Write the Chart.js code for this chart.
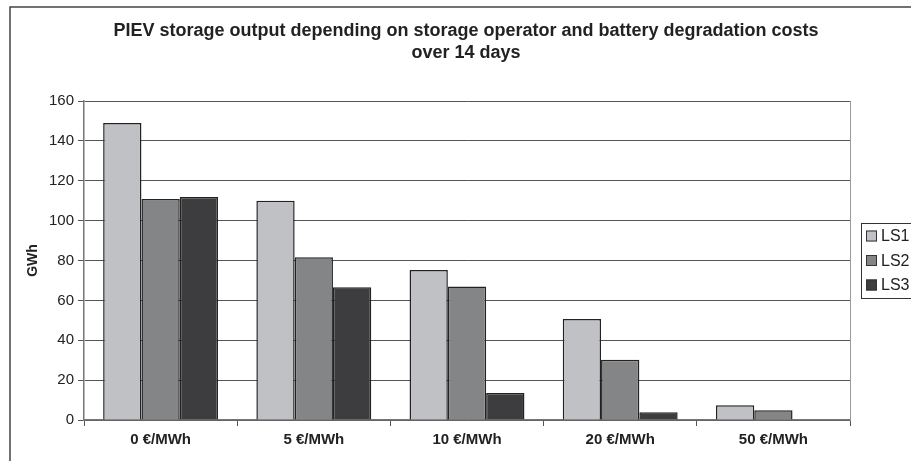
<!DOCTYPE html>
<html>
<head>
<meta charset="utf-8">
<script src="https://cdn.jsdelivr.net/npm/chart.js@4/dist/chart.umd.min.js"></script>
<style>
  html, body { margin: 0; padding: 0; background: #fff; }
  canvas { display: block; }
</style>
</head>
<body>
<canvas id="myChart" width="911" height="461"></canvas>
<script>
const labels = ["0 €/MWh", "5 €/MWh", "10 €/MWh", "20 €/MWh", "50 €/MWh"];
const ls1 = [149, 110, 75.2, 50.6, 7.4];
const ls2 = [110.8, 81.6, 67, 30.2, 4.9];
const ls3 = [111.8, 66.6, 13.5, 3.9, 0];
const yTicks = [0, 20, 40, 60, 80, 100, 120, 140, 160];
const titleLines = ["PIEV storage output depending on storage operator and battery degradation costs", "over 14 days"];

const font = "'Liberation Sans', Arial, sans-serif";

// frame round the whole chart, title, and boxed legend on the right
const framePlugin = {
    id: 'frame',
    afterDraw(chart) {
        const c = chart.ctx;
        const a = chart.chartArea;
        c.save();
        c.strokeStyle = '#444';
        c.lineWidth = 1.5;
        c.strokeRect(10, 7, 1000, 1000);

        // title
        c.fillStyle = '#222';
        c.font = "bold 18px " + font;
        c.textAlign = 'center';
        c.textBaseline = 'middle';
        titleLines.forEach((t, i) => c.fillText(t, 466, 31 + i * 22));

        // right edge of plot area
        c.strokeStyle = '#999';
        c.lineWidth = 1;
        c.beginPath();
        c.moveTo(Math.round(a.right) + 0.5, a.top);
        c.lineTo(Math.round(a.right) + 0.5, a.bottom);
        c.stroke();

        // legend
        c.textAlign = 'left';
        c.strokeStyle = '#333';
        c.strokeRect(861.5, 223.5, 100, 75);
        c.font = "16px " + font;
        chart.data.datasets.forEach((ds, i) => {
            const y = 236 + i * 24.5;
            c.fillStyle = ds.backgroundColor;
            c.fillRect(866, y - 5.5, 11, 11);
            c.strokeStyle = '#333';
            c.strokeRect(866.5, y - 5, 10, 10);
            c.fillStyle = '#222';
            c.fillText(ds.label, 881, y + 1);
        });
        c.restore();
    }
};

const data = {
    labels,
    datasets: [
        { label: "LS1", data: ls1, backgroundColor: "#c0c1c5" },
        { label: "LS2", data: ls2, backgroundColor: "#848586" },
        { label: "LS3", data: ls3, backgroundColor: "#3d3d3f" },
    ].map(d => Object.assign(d, {
        borderColor: "#222",
        borderWidth: 1.5,
        categoryPercentage: 0.75,
        barPercentage: 1.0,
    })),
};

const config = {
    type: 'bar',
    data: data,
    options: {
        responsive: false,
        animation: false,
        devicePixelRatio: 1,
        layout: { padding: { left: 10, right: 61, top: 101, bottom: 0 } },
        plugins: {
            legend: { display: false },
            tooltip: { enabled: false },
            title: { display: false },
        },
        scales: {
            x: {
                grid: { offset: true, drawOnChartArea: false, color: '#555', tickLength: 6 },
                border: { color: '#777', width: 1.5 },
                ticks: { color: '#222', font: { family: font, size: 15, weight: 'bold' }, padding: 5 },
                afterFit(s) { s.height = 41; },
            },
            y: {
                min: 0,
                max: 160,
                afterBuildTicks(s) { s.ticks = yTicks.map(v => ({ value: v })); },
                grid: { color: '#555', tickLength: 6 },
                border: { color: '#777', width: 1.5 },
                ticks: { color: '#222', font: { family: font, size: 15 }, padding: 4 },
                title: {
                    display: true,
                    text: "GWh",
                    color: '#222',
                    font: { family: font, size: 14, weight: 'bold' },
                    padding: { top: 15, bottom: 0 },
                },
                afterFit(s) { s.width = 74; },
            },
        },
    },
    plugins: [framePlugin],
};

const myChart = new Chart(document.getElementById('myChart').getContext("2d"), config);
</script>
</body>
</html>
